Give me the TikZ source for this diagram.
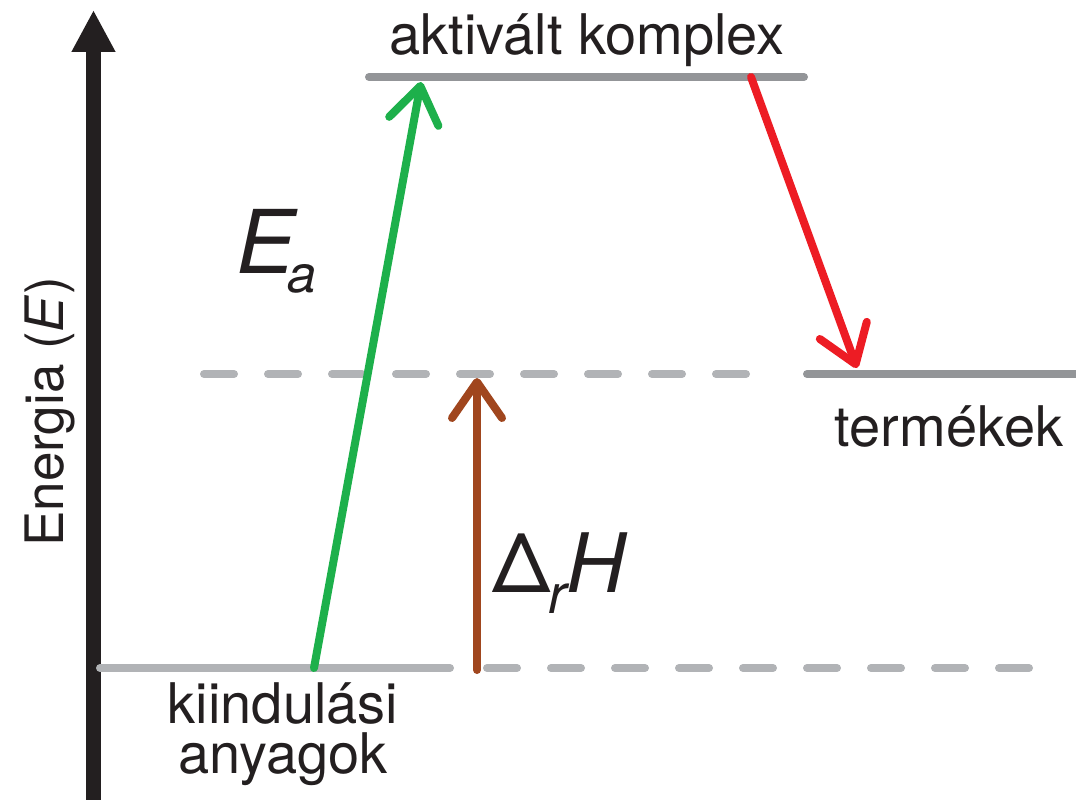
\documentclass[tikz,border=0pt]{standalone}
\usepackage{fontspec}
\setmainfont{TeX Gyre Heros}
\usetikzlibrary{arrows.meta}
\definecolor{txt}{HTML}{231F20}
\definecolor{lvldark}{HTML}{939598}
\definecolor{lvllight}{HTML}{B1B3B6}
\definecolor{eagreen}{HTML}{1DB04B}
\definecolor{downred}{HTML}{ED1C24}
\definecolor{dhbrown}{HTML}{A0461E}
\tikzset{
  level/.style={line width=8pt, line cap=round},
  dashlevel/.style={line width=8pt, line cap=round, lvllight, dash pattern=on 30pt off 34pt},
  barbarrow/.style={line width=8pt, line cap=round, line join=round,
    -{Straight Barb[length=36pt,width=50pt,line width=8pt,round]}},
  lbl/.style={text=txt, inner sep=0pt, font=\fontsize{56}{60}\selectfont},
}
\begin{document}
\begin{tikzpicture}[x=1pt,y=-1pt]
\useasboundingbox (0,0) rectangle (1076,800);
% energy axis
\coordinate (axisbot) at (93.5,810);
\coordinate (axistop) at (93.5,10);
\draw[txt, line width=15pt, -{Triangle[length=42pt,width=41pt]}] (axisbot) -- (axistop);
% levels
\coordinate (tsL) at (369,77); \coordinate (tsR) at (804,77);
\coordinate (reL) at (100,668); \coordinate (reR) at (450,668);
\coordinate (reDL) at (487,668); \coordinate (reDR) at (1030,668);
\coordinate (prDL) at (204,374); \coordinate (prDR) at (760,374);
\coordinate (prL) at (807,374); \coordinate (prR) at (1085,374);
\draw[dashlevel] (prDL) -- (prDR);
\draw[dashlevel] (reDL) -- (reDR);
\draw[level, lvldark] (tsL) -- (tsR);
\draw[level, lvllight] (reL) -- (reR);
\draw[level, lvldark] (prL) -- (prR);
% arrows
\coordinate (gS) at (314,668); \coordinate (gE) at (421,82);
\coordinate (rS) at (751,77); \coordinate (rE) at (857,368);
\coordinate (bS) at (477,670); \coordinate (bE) at (477,378);
\draw[barbarrow, eagreen] (gS) -- (gE);
\draw[barbarrow, downred] (rS) -- (rE);
\draw[barbarrow, dhbrown] (bS) -- (bE);
% labels
\node[lbl, anchor=base] (tslbl) at (587,55) {aktivált komplex};
\node[lbl, anchor=base] (prlbl) at (949,446) {termékek};
\node[lbl, anchor=north, align=center, font=\fontsize{56}{50}\selectfont] (relbl) at (283,682) {kiindulási\\anyagok};
\node[lbl, anchor=base, rotate=90, font=\fontsize{53}{60}\selectfont] (ylbl) at (63,412) {Energia (\textit{E})};
\node[text=txt, inner sep=0pt, anchor=base west] (ealbl) at (236,273)
  {\fontsize{88}{90}\selectfont\itshape E\kern-7pt\raisebox{-19pt}{\fontsize{52}{52}\selectfont a}};
\node[text=txt, inner sep=0pt, anchor=base west] (dhlbl) at (492,592)
  {\fontsize{82}{90}\selectfont Δ\kern-2pt\raisebox{-21pt}{\fontsize{55}{55}\selectfont\itshape r}\itshape H};
\end{tikzpicture}
\end{document}
